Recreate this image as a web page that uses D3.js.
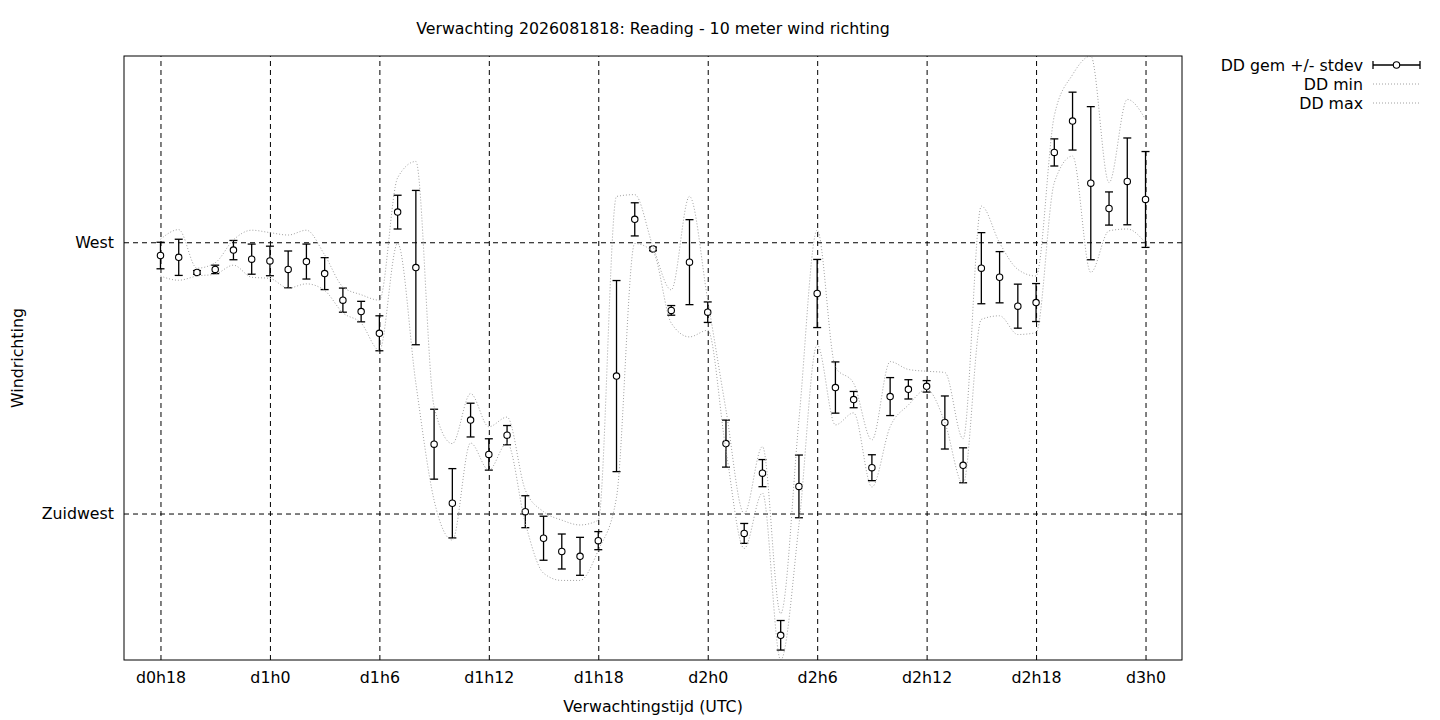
<!DOCTYPE html>
<html>
<head>
<meta charset="utf-8">
<script src="https://cdn.jsdelivr.net/npm/d3@7"></script>
<style>
    body { margin: 0; background: #fff; }
    text { font-family: "DejaVu Sans", sans-serif; fill: #000; }
</style>
</head>
<body>
<div id="chart"></div>
<script>

// forecast hours since d0h0
var hours = [18, 19, 20, 21, 22, 23, 24, 25, 26, 27, 28, 29, 30, 31, 32, 33, 34, 35, 36,
    37, 38, 39, 40, 41, 42, 43, 44, 45, 46, 47, 48, 49, 50, 51, 52, 53, 54, 55, 56, 57,
    58, 59, 60, 61, 62, 63, 64, 65, 66, 67, 68, 69, 70, 71, 72];

// wind direction in degrees
var ddMean = [267.8, 267.5, 265.0, 265.5, 268.7, 267.2, 266.9, 265.5, 266.8, 264.8,
    260.4, 258.5, 254.9, 275.0, 265.8, 236.5, 226.7, 240.5, 234.8, 238.0,
    225.3, 220.9, 218.7, 217.9, 220.5, 247.8, 273.8, 268.9, 258.7, 266.7,
    258.4, 236.6, 221.7, 231.7, 204.8, 229.5, 261.5, 245.9, 243.9, 232.6,
    244.4, 245.6, 246.1, 240.1, 233.0, 265.7, 264.2, 259.4, 260.0, 284.9,
    290.1, 279.8, 275.6, 280.1, 277.1];

var ddStdev = [2.2, 3.0, 0.3, 0.7, 1.6, 2.5, 2.45, 3.05, 2.9, 2.65,
    2.0, 1.7, 2.9, 2.8, 12.8, 5.8, 5.75, 2.8, 2.6, 1.6,
    2.65, 3.65, 2.9, 3.15, 1.5, 15.85, 2.75, 0.3, 0.8, 7.05,
    1.7, 3.9, 1.65, 2.25, 2.45, 5.2, 5.65, 4.25, 1.35, 2.15,
    3.15, 1.6, 0.95, 4.4, 2.9, 5.9, 4.25, 3.65, 3.15, 2.25,
    4.8, 12.7, 2.75, 7.2, 7.95];

var ddMin = [264.4, 263.7, 264.4, 264.7, 266.2, 264.2, 264.0, 262.4, 263.1, 262.0,
    258.3, 256.6, 252.1, 269.8, 246.6, 227.2, 220.6, 236.7, 232.2, 236.7,
    223.4, 215.1, 213.9, 213.9, 218.9, 227.7, 269.8, 268.4, 256.6, 254.3,
    255.4, 235.5, 219.2, 228.4, 200.7, 223.1, 253.0, 239.7, 241.7, 229.4,
    239.4, 243.0, 245.6, 240.1, 229.9, 257.2, 257.8, 254.7, 255.0, 279.9,
    284.3, 265.0, 271.9, 272.2, 269.9];

var ddMax = [270.5, 272.1, 265.7, 266.6, 270.4, 272.0, 271.6, 271.2, 272.0, 267.9,
    262.6, 261.3, 260.4, 280.7, 283.4, 242.7, 236.6, 244.9, 239.4, 241.0,
    228.9, 225.3, 223.9, 223.1, 223.9, 277.6, 277.9, 269.3, 262.1, 277.6,
    260.4, 242.2, 225.0, 236.1, 208.4, 240.5, 272.0, 249.3, 246.6, 237.2,
    250.2, 248.9, 248.6, 248.4, 237.4, 276.0, 269.9, 265.5, 264.4, 291.0,
    297.8, 300.9, 279.9, 293.7, 290.4];

var xTickValues = [18, 24, 30, 36, 42, 48, 54, 60, 66, 72];
var xTickLabels = ["d0h18", "d1h0", "d1h6", "d1h12", "d1h18", "d2h0", "d2h6", "d2h12", "d2h18", "d3h0"];

var yTickValues = [225, 270];
var yTickLabels = ["Zuidwest", "West"];

var legendLabels = ["DD gem +/- stdev", "DD min", "DD max"];


var margin = {top: 56, right: 258, bottom: 60, left: 124};
var width = 1440 - margin.left - margin.right;
var height = 720 - margin.top - margin.bottom;
var fontSize = 15.8;

var svg = d3.select("#chart").append("svg")
    .attr("width", 1440)
    .attr("height", 720);

svg.append("rect")
    .attr("width", 1440)
    .attr("height", 720)
    .attr("fill", "#fff");

var g = svg.append("g")
    .attr("transform", "translate(" + margin.left + "," + margin.top + ")");

var data = hours.map(function(h, i) {
    return {h: h, mean: ddMean[i], sd: ddStdev[i], min: ddMin[i], max: ddMax[i]};
});

var x = d3.scaleLinear()
    .domain([16, 74])
    .range([0, width]);

// gnuplot autoscale: y range is the extent of min / max
var y = d3.scaleLinear()
    .domain([d3.min(ddMin), d3.max(ddMax)])
    .range([height, 0]);

g.append("clipPath")
    .attr("id", "clip")
    .append("rect")
    .attr("width", width)
    .attr("height", height);

// grid + tick labels
var xAxis = d3.axisBottom(x)
    .tickValues(xTickValues)
    .tickFormat(function(d, i) { return xTickLabels[i]; })
    .tickSize(-height)
    .tickPadding(12);

var yAxis = d3.axisLeft(y)
    .tickValues(yTickValues)
    .tickFormat(function(d, i) { return yTickLabels[i]; })
    .tickSize(-width)
    .tickPadding(10);

var gx = g.append("g")
    .attr("transform", "translate(0," + height + ")")
    .call(xAxis);

var gy = g.append("g")
    .call(yAxis);

[gx, gy].forEach(function(ax) {
    ax.select(".domain").remove();
    ax.selectAll(".tick line")
        .attr("stroke", "#000")
        .attr("stroke-dasharray", "5,4");
    ax.selectAll(".tick text")
        .attr("font-size", fontSize)
        .attr("font-family", "DejaVu Sans")
        .attr("fill", "#000");
});

var plot = g.append("g").attr("clip-path", "url(#clip)");

// error bars
var bars = plot.selectAll(".bar")
    .data(data)
    .enter().append("g")
    .attr("class", "bar");

bars.append("line")
    .attr("x1", function(d) { return x(d.h); })
    .attr("x2", function(d) { return x(d.h); })
    .attr("y1", function(d) { return y(d.mean - d.sd); })
    .attr("y2", function(d) { return y(d.mean + d.sd); })
    .attr("stroke", "#000")
    .attr("stroke-width", 1.3);

[-1, 1].forEach(function(s) {
    bars.append("line")
        .attr("x1", function(d) { return x(d.h) - 4; })
        .attr("x2", function(d) { return x(d.h) + 4; })
        .attr("y1", function(d) { return y(d.mean + s * d.sd); })
        .attr("y2", function(d) { return y(d.mean + s * d.sd); })
        .attr("stroke", "#000")
        .attr("stroke-width", 1.3);
});

bars.append("circle")
    .attr("cx", function(d) { return x(d.h); })
    .attr("cy", function(d) { return y(d.mean); })
    .attr("r", 3.2)
    .attr("fill", "#fff")
    .attr("stroke", "#000")
    .attr("stroke-width", 1.1);

// min / max smoothed lines
var lineMin = d3.line()
    .x(function(d) { return x(d.h); })
    .y(function(d) { return y(d.min); })
    .curve(d3.curveMonotoneX);

var lineMax = d3.line()
    .x(function(d) { return x(d.h); })
    .y(function(d) { return y(d.max); })
    .curve(d3.curveMonotoneX);

[lineMin, lineMax].forEach(function(ln) {
    plot.append("path")
        .datum(data)
        .attr("d", ln)
        .attr("fill", "none")
        .attr("stroke", "#a0a0a0")
        .attr("stroke-width", 1)
        .attr("stroke-dasharray", "1,2");
});

// border
g.append("rect")
    .attr("width", width)
    .attr("height", height)
    .attr("fill", "none")
    .attr("stroke", "#000")
    .attr("stroke-width", 1);

// titles
svg.append("text")
    .attr("x", 653)
    .attr("y", 34)
    .attr("text-anchor", "middle")
    .attr("font-size", fontSize)
    .text("Verwachting 2026081818: Reading - 10 meter wind richting");

svg.append("text")
    .attr("x", margin.left + width / 2)
    .attr("y", 712)
    .attr("text-anchor", "middle")
    .attr("font-size", fontSize)
    .text("Verwachtingstijd (UTC)");

svg.append("text")
    .attr("transform", "translate(23," + (margin.top + height / 2) + ") rotate(-90)")
    .attr("text-anchor", "middle")
    .attr("font-size", fontSize)
    .text("Windrichting");

// legend
var legend = svg.append("g")
    .attr("transform", "translate(1363,65)");

legendLabels.forEach(function(lbl, i) {
    legend.append("text")
        .attr("x", 0)
        .attr("y", i * 19)
        .attr("dy", "0.35em")
        .attr("text-anchor", "end")
        .attr("font-size", fontSize)
        .text(lbl);
});

legend.append("line")
    .attr("x1", 10).attr("x2", 57)
    .attr("y1", 0).attr("y2", 0)
    .attr("stroke", "#000").attr("stroke-width", 1.3);
[10, 57].forEach(function(cx) {
    legend.append("line")
        .attr("x1", cx).attr("x2", cx)
        .attr("y1", -4).attr("y2", 4)
        .attr("stroke", "#000").attr("stroke-width", 1.3);
});
legend.append("circle")
    .attr("cx", 33.5).attr("cy", 0).attr("r", 3.2)
    .attr("fill", "#fff").attr("stroke", "#000").attr("stroke-width", 1.1);

[1, 2].forEach(function(i) {
    legend.append("line")
        .attr("x1", 10).attr("x2", 57)
        .attr("y1", i * 19).attr("y2", i * 19)
        .attr("stroke", "#a0a0a0")
        .attr("stroke-dasharray", "1,2");
});

</script>
</body>
</html>
